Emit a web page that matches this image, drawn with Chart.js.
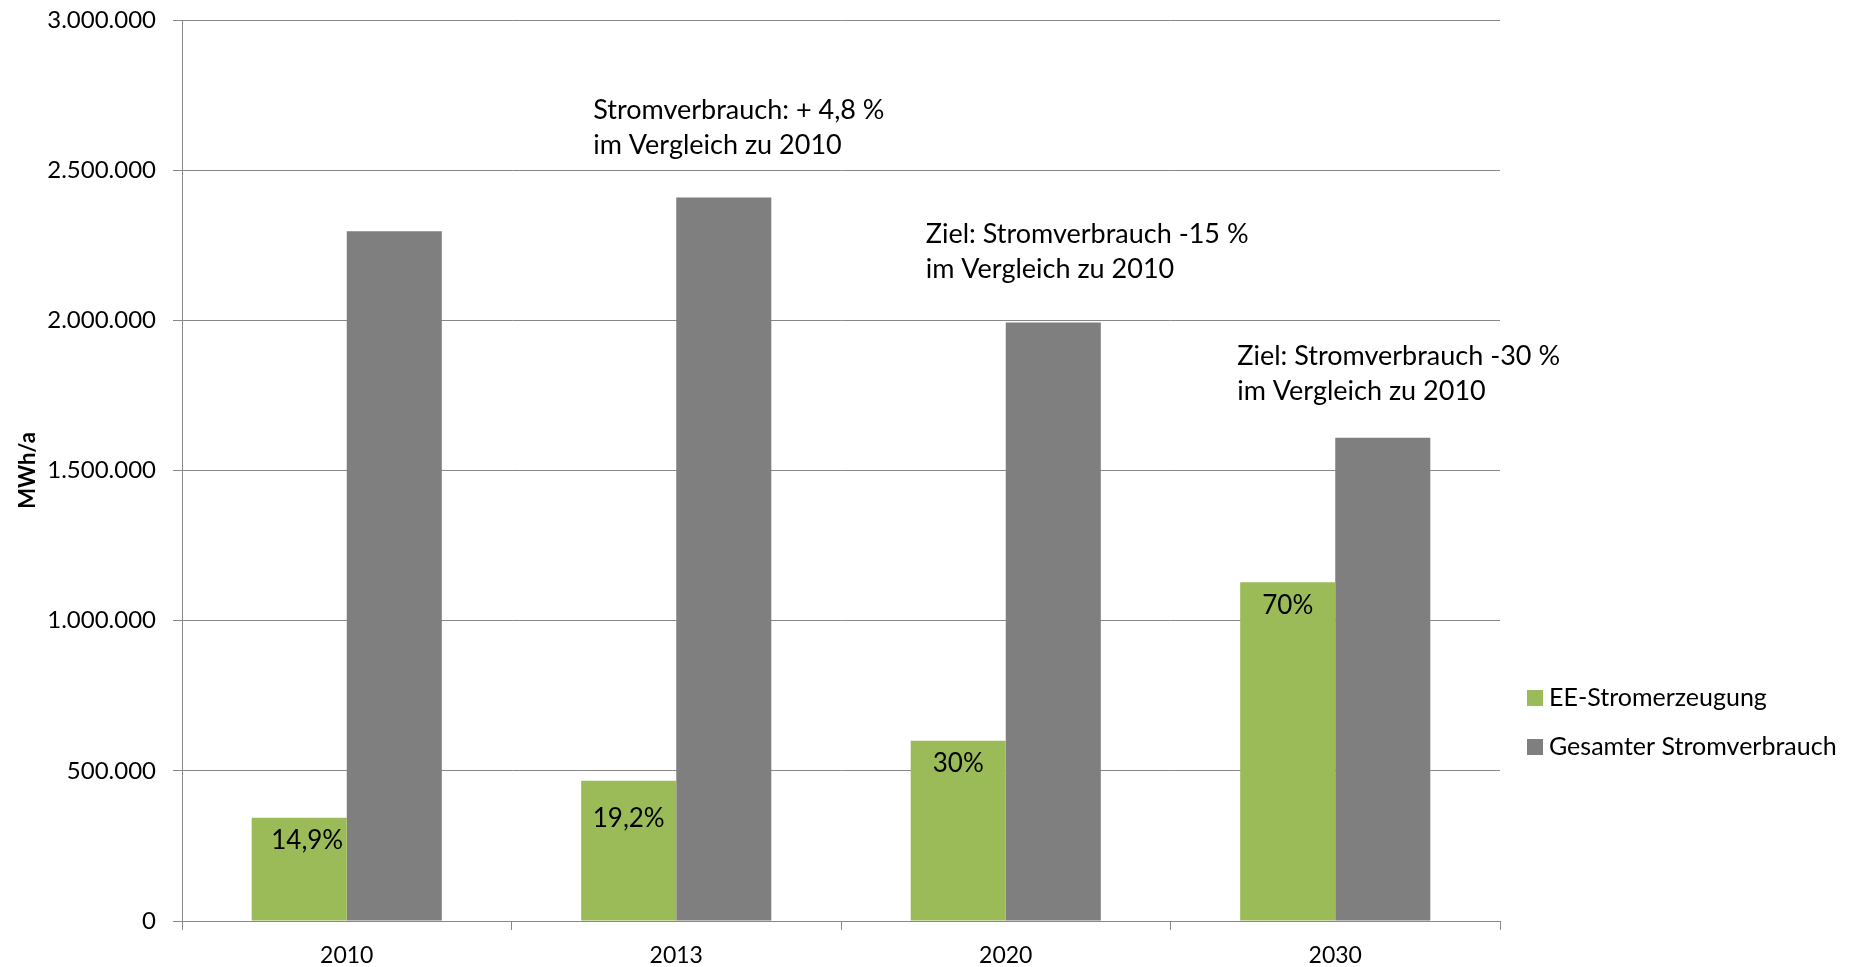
<!DOCTYPE html>
<html>
<head>
<meta charset="utf-8">
<title>Stromverbrauch und EE-Stromerzeugung</title>
<script src="https://cdn.jsdelivr.net/npm/chart.js@4.4.1/dist/chart.umd.min.js"></script>
<style>
    html, body { margin: 0; padding: 0; background: #fff; }
    #wrap { width: 1855px; height: 967px; position: relative; }
</style>
</head>
<body>
<div id="wrap"><canvas id="stromChart"></canvas></div>
<script>
// Values (MWh/a)
const years = ['2010', '2013', '2020', '2030'];
const eeGeneration = [344000, 467000, 600000, 1128000];
const totalConsumption = [2297000, 2409000, 1993000, 1609000];
const eeShareLabels = ['14,9%', '19,2%', '30%', '70%'];
const seriesNames = ['EE-Stromerzeugung', 'Gesamter Stromverbrauch'];
const yMax = 3000000;
const yStep = 500000;
const axisTitle = 'MWh/a';
const notes = [
    ['Stromverbrauch: + 4,8 %', 'im Vergleich zu 2010'],
    ['Ziel: Stromverbrauch -15 %', 'im Vergleich zu 2010'],
    ['Ziel: Stromverbrauch -30 %', 'im Vergleich zu 2010']
];

const GREEN = '#9bbb59';
const GREY = '#7f7f7f';
const LINE = '#888888';
const FONT = 'Lato, "Open Sans", sans-serif';

// German thousands separator
function fmt(v) {
    return String(v).replace(/\B(?=(\d{3})+(?!\d))/g, '.');
}

// where the note blocks sit: category index, x shift from its centre, y value of first line
const notePlacement = [
    { index: 1, dx: -83, y: 2700000 },
    { index: 2, dx: -80, y: 2287000 },
    { index: 3, dx: -98, y: 1880000 }
];
// label shift below each green bar top (px)
const shareLabelShift = [23, 38, 23, 23];

const extrasPlugin = {
    id: 'extras',
    afterDatasetsDraw(chart) {
        const ctx = chart.ctx;
        const xs = chart.scales.x;
        const ys = chart.scales.y;

        ctx.save();
        ctx.fillStyle = '#000';

        // share labels inside the green bars
        ctx.font = '26px ' + FONT;
        ctx.textAlign = 'center';
        ctx.textBaseline = 'middle';
        chart.getDatasetMeta(0).data.forEach((bar, i) => {
            ctx.fillText(eeShareLabels[i], bar.x + (i === 0 ? 8 : 0), bar.y + shareLabelShift[i]);
        });

        // notes above the bars
        ctx.font = '27px ' + FONT;
        ctx.textAlign = 'left';
        notes.forEach((lines, n) => {
            const p = notePlacement[n];
            const x = xs.getPixelForValue(p.index) + p.dx;
            const y = ys.getPixelForValue(p.y);
            lines.forEach((t, k) => ctx.fillText(t, x, y + k * 35));
        });

        // legend on the right
        ctx.font = '25px ' + FONT;
        const colors = [GREEN, GREY];
        seriesNames.forEach((name, i) => {
            const cy = 698 + i * 49;
            ctx.fillStyle = colors[i];
            ctx.fillRect(1527, cy - 8, 16, 16);
            ctx.fillStyle = '#000';
            ctx.fillText(name, 1549, cy);
        });
        ctx.restore();
    }
};

const ctx = document.getElementById('stromChart').getContext('2d');
new Chart(ctx, {
    type: 'bar',
    data: {
        labels: years,
        datasets: [
            { label: seriesNames[0], data: eeGeneration, backgroundColor: GREEN },
            { label: seriesNames[1], data: totalConsumption, backgroundColor: GREY }
        ]
    },
    options: {
        responsive: true,
        maintainAspectRatio: false,
        animation: false,
        categoryPercentage: 0.577,
        barPercentage: 1,
        layout: { padding: { top: 20, right: 355, left: 0, bottom: 0 } },
        plugins: {
            legend: { display: false },
            tooltip: { enabled: false }
        },
        scales: {
            x: {
                afterFit: (s) => { s.height = 46; s.paddingLeft = 0; s.paddingRight = 0; },
                grid: { offset: true, drawOnChartArea: false, drawTicks: true, tickLength: 9, color: LINE, lineWidth: 1 },
                border: { display: true, color: LINE, width: 1 },
                ticks: { color: '#000', font: { family: FONT, size: 23 }, padding: 12 }
            },
            y: {
                min: 0,
                max: yMax,
                afterFit: (s) => { s.width = 182; s.paddingTop = 0; s.paddingBottom = 0; },
                ticks: {
                    stepSize: yStep,
                    color: '#000',
                    font: { family: FONT, size: 24 },
                    padding: 17,
                    callback: (v) => fmt(v)
                },
                grid: { color: LINE, lineWidth: 1, tickLength: 9 },
                border: { display: true, color: LINE, width: 1 },
                title: {
                    display: true,
                    text: axisTitle,
                    color: '#000',
                    font: { family: FONT, size: 22, weight: 'bold' },
                    padding: { top: 15, bottom: 0 }
                }
            }
        }
    },
    plugins: [extrasPlugin]
});
</script>
</body>
</html>
